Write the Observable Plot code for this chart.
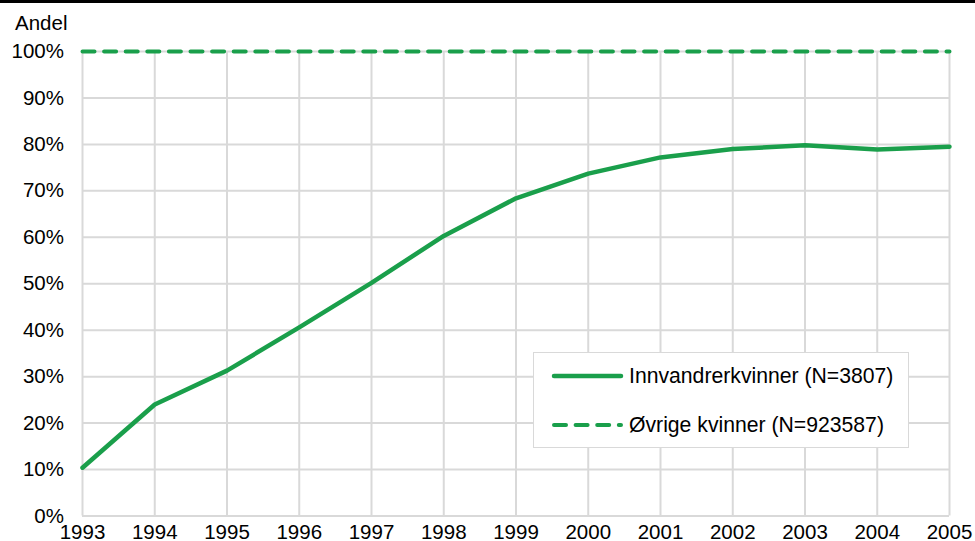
<!DOCTYPE html>
<html>
<head>
<meta charset="utf-8">
<script src="https://cdn.jsdelivr.net/npm/d3@7"></script>
<script src="https://cdn.jsdelivr.net/npm/@observablehq/plot@0.6"></script>
<style>
  html, body { margin: 0; padding: 0; background: #fff; }
  #wrap { position: relative; width: 975px; height: 541px; overflow: hidden; font-family: "Liberation Sans", Arial, sans-serif; }
  #topline { position: absolute; left: 0; top: 0; width: 975px; height: 3px; background: #000; z-index: 3; }
  #ylabel { position: absolute; left: 15px; top: 11px; font-size: 20.5px; color: #000; line-height: 24px; }
  #legend { position: absolute; left: 533px; top: 352px; width: 374px; height: 94px; border: 1.5px solid #d9d9d9; background: #fff; z-index: 2; }
  #chart svg { display: block; }
</style>
</head>
<body>
<div id="wrap">
  <div id="topline"></div>
  <div id="chart"></div>
  <div id="ylabel">Andel</div>
  <div id="legend"></div>
</div>
<script>
const years = [1993, 1994, 1995, 1996, 1997, 1998, 1999, 2000, 2001, 2002, 2003, 2004, 2005];
const innvandrerkvinner = [10.4, 24.0, 31.3, 40.6, 50.2, 60.3, 68.4, 73.7, 77.2, 79.0, 79.8, 78.9, 79.5];
const ovrigeKvinner = [100, 100, 100, 100, 100, 100, 100, 100, 100, 100, 100, 100, 100];
const yTicks = [0, 10, 20, 30, 40, 50, 60, 70, 80, 90, 100];
const seriesNames = ["Innvandrerkvinner (N=3807)", "Øvrige kvinner (N=923587)"];

const green = "#1a9f4b";
const font = "Liberation Sans, Arial, sans-serif";

const dataA = years.map((y, i) => ({year: y, value: innvandrerkvinner[i]}));
const dataB = years.map((y, i) => ({year: y, value: ovrigeKvinner[i]}));

const chart = Plot.plot({
  width: 975,
  height: 541,
  marginLeft: 82,
  marginRight: 26,
  marginTop: 51,
  marginBottom: 25.5,
  style: {fontFamily: font, fontSize: "20.5px", color: "#000", background: "transparent", overflow: "visible"},
  x: {type: "linear", domain: [1993, 2005]},
  y: {domain: [0, 100]},
  marks: [
    Plot.gridX(years, {stroke: "#d9d9d9", strokeOpacity: 1, strokeWidth: 2}),
    Plot.gridY(yTicks, {stroke: "#d9d9d9", strokeOpacity: 1, strokeWidth: 2}),
    Plot.axisY(yTicks, {tickSize: 0, tickPadding: 18.5, tickFormat: d => d + "%", fontSize: 20.5, label: null}),
    Plot.axisX(years, {tickSize: 0, tickPadding: 8.5, tickFormat: d => String(d), fontSize: 20.5, label: null}),
    Plot.line(dataB, {x: "year", y: "value", stroke: green, strokeWidth: 4, strokeDasharray: "12,9.6", strokeLinecap: "round"}),
    Plot.line(dataA, {x: "year", y: "value", stroke: green, strokeWidth: 4.5, strokeLinejoin: "round"})
  ]
});
document.getElementById("chart").appendChild(chart);

// Legend
const leg = d3.select("#legend").append("svg").attr("width", 374).attr("height", 94).style("display", "block");
const rows = [
  {name: seriesNames[0], dash: null, y: 23},
  {name: seriesNames[1], dash: "12,9.6", y: 72}
];
rows.forEach(r => {
  const ln = leg.append("line")
    .attr("x1", 20).attr("x2", 87).attr("y1", r.y).attr("y2", r.y)
    .attr("stroke", green).attr("stroke-width", 4.5).attr("stroke-linecap", "round");
  if (r.dash) ln.attr("stroke-dasharray", r.dash).attr("stroke-width", 4);
  leg.append("text").attr("x", 95).attr("y", r.y).attr("dy", "0.35em")
    .style("font-family", font).style("font-size", "21.2px").attr("fill", "#000").text(r.name);
});
</script>
</body>
</html>
